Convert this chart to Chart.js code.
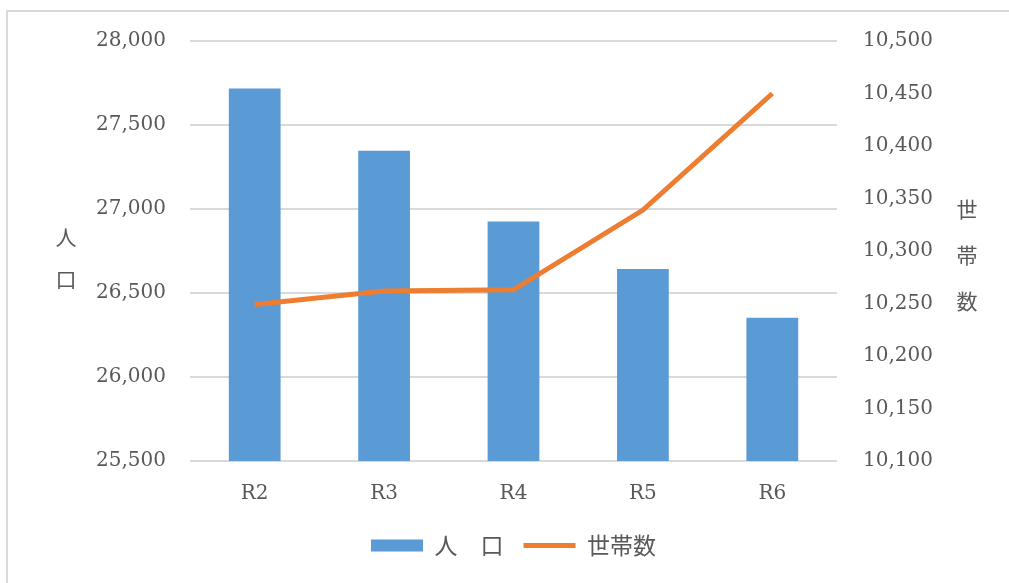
<!DOCTYPE html>
<html>
<head>
<meta charset="utf-8">
<script src="https://cdn.jsdelivr.net/npm/chart.js@4/dist/chart.umd.min.js"></script>
<style>
  html, body { margin: 0; padding: 0; background: #fff; overflow: hidden; }
  #wrap { position: relative; width: 1009px; height: 583px; }
  #frame { position: absolute; left: 6px; top: 10px; width: 1020px; height: 600px;
           border: 2px solid #d9d9d9; box-sizing: border-box; }
</style>
</head>
<body>
<div id="wrap">
  <canvas id="chart" width="1009" height="583"></canvas>
  <div id="frame"></div>
</div>
<script>
const categories = ["R2", "R3", "R4", "R5", "R6"];
const population = [27718, 27346, 26926, 26643, 26353];
const households = [10249, 10262, 10263, 10339, 10450];
const popRange = [25500, 28000, 500];
const hhRange = [10100, 10500, 50];
const popTitle = ["人", "口"];
const hhTitle = ["世", "帯", "数"];

const serif = "'DejaVu Serif', 'Liberation Serif', serif";
const jp = "'Noto Sans CJK JP', sans-serif";
const grey = "#595959";

// vertical upright axis titles
const axisTitles = {
  id: "axisTitles",
  afterDraw(chart) {
    const ctx = chart.ctx;
    const mid = (chart.chartArea.top + chart.chartArea.bottom) / 2;
    ctx.save();
    ctx.fillStyle = grey;
    ctx.font = "21px " + jp;
    ctx.textAlign = "center";
    ctx.textBaseline = "middle";
    popTitle.forEach((c, i) => {
      ctx.fillText(c, 66, mid + 7 + (i - (popTitle.length - 1) / 2) * 42);
    });
    hhTitle.forEach((c, i) => {
      ctx.fillText(c, 967, mid + 4 + (i - (hhTitle.length - 1) / 2) * 46);
    });
    ctx.restore();
  }
};

new Chart(document.getElementById("chart").getContext("2d"), {
  data: {
    labels: categories,
    datasets: [
      {
        type: "line", label: "世帯数", data: households, yAxisID: "y2",
        borderColor: "#ED7D31", backgroundColor: "#ED7D31", borderWidth: 5,
        pointRadius: 0, pointStyle: "line", tension: 0, order: 0
      },
      {
        type: "bar", label: "人　口", data: population, yAxisID: "y",
        backgroundColor: "#5B9BD5", pointStyle: "rect",
        barPercentage: 0.4, categoryPercentage: 1, order: 1
      }
    ]
  },
  options: {
    responsive: false,
    animation: false,
    maintainAspectRatio: false,
    layout: { padding: { top: 41, left: 0, right: 0, bottom: 16 } },
    plugins: {
      tooltip: { enabled: false },
      legend: {
        position: "bottom",
        fullSize: false,
        reverse: true,
        labels: {
          usePointStyle: true, pointStyleWidth: 52, boxHeight: 12,
          padding: 20, color: grey, font: { family: jp, size: 23 }
        }
      }
    },
    scales: {
      x: {
        grid: { display: false },
        border: { display: false },
        ticks: { color: grey, font: { family: serif, size: 20 }, padding: 13 },
        afterFit(s) { s.height = 53; }
      },
      y: {
        position: "left",
        min: popRange[0], max: popRange[1],
        grid: { color: "#d9d9d9", lineWidth: 2, drawTicks: false },
        border: { display: false },
        ticks: {
          stepSize: popRange[2], padding: 24, color: grey,
          font: { family: serif, size: 20 },
          callback: v => v.toLocaleString("en-US")
        },
        afterFit(s) { s.width = 190; }
      },
      y2: {
        position: "right",
        min: hhRange[0], max: hhRange[1],
        grid: { display: false, drawTicks: false },
        border: { display: false },
        ticks: {
          stepSize: hhRange[2], padding: 26, color: grey,
          font: { family: serif, size: 20 },
          callback: v => v.toLocaleString("en-US")
        },
        afterFit(s) { s.width = 1009 - 837; }
      }
    }
  },
  plugins: [axisTitles]
});
</script>
</body>
</html>
